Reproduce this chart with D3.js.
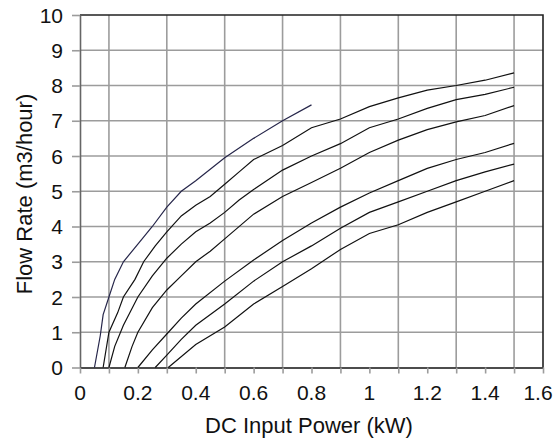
<!DOCTYPE html>
<html>
<head>
<meta charset="utf-8">
<script src="https://cdn.jsdelivr.net/npm/d3@7"></script>
<style>
  body { margin: 0; background: #fff; }
  svg { display: block; font-family: "Liberation Sans", Arial, sans-serif; }
</style>
</head>
<body>
<svg></svg>
<script>
// pump curves, [DC input power kW, flow m3/hour]
let curve1 = [[0.05,0],[0.07,0.9],[0.08,1.5],[0.1,2.0],[0.12,2.5],[0.15,3.0],[0.2,3.5],[0.25,4.0],[0.3,4.55],[0.35,5.0],[0.4,5.3],[0.5,5.95],[0.6,6.5],[0.7,7.0],[0.8,7.45]],
    curve2 = [[0.08,0],[0.1,1.0],[0.13,1.55],[0.15,2.0],[0.19,2.5],[0.22,3.0],[0.26,3.45],[0.3,3.85],[0.35,4.3],[0.4,4.6],[0.45,4.85],[0.5,5.2],[0.55,5.55],[0.6,5.9],[0.7,6.3],[0.8,6.8],[0.9,7.05],[1.0,7.4],[1.1,7.65],[1.2,7.87],[1.3,8.0],[1.4,8.15],[1.5,8.36]],
    curve3 = [[0.1,0],[0.12,0.6],[0.15,1.2],[0.2,2.0],[0.25,2.6],[0.3,3.1],[0.35,3.5],[0.4,3.85],[0.45,4.1],[0.5,4.4],[0.55,4.75],[0.6,5.05],[0.7,5.6],[0.8,6.0],[0.9,6.35],[1.0,6.8],[1.1,7.05],[1.2,7.35],[1.3,7.6],[1.4,7.75],[1.5,7.95]],
    curve4 = [[0.155,0],[0.18,0.6],[0.2,1.0],[0.25,1.7],[0.3,2.2],[0.35,2.6],[0.4,3.0],[0.45,3.3],[0.5,3.65],[0.6,4.35],[0.7,4.85],[0.8,5.25],[0.9,5.65],[1.0,6.1],[1.1,6.45],[1.2,6.75],[1.3,6.97],[1.4,7.15],[1.5,7.43]],
    curve5 = [[0.2,0],[0.25,0.5],[0.3,0.95],[0.35,1.4],[0.4,1.8],[0.5,2.45],[0.6,3.05],[0.7,3.6],[0.8,4.1],[0.9,4.55],[1.0,4.95],[1.1,5.3],[1.2,5.65],[1.3,5.9],[1.4,6.1],[1.5,6.36]],
    curve6 = [[0.26,0],[0.3,0.35],[0.35,0.8],[0.4,1.2],[0.5,1.8],[0.6,2.45],[0.7,3.0],[0.8,3.45],[0.9,3.95],[1.0,4.4],[1.1,4.7],[1.2,5.0],[1.3,5.3],[1.4,5.55],[1.5,5.77]],
    curve7 = [[0.305,0],[0.4,0.65],[0.5,1.15],[0.6,1.8],[0.7,2.3],[0.8,2.8],[0.9,3.35],[1.0,3.8],[1.1,4.05],[1.2,4.4],[1.3,4.7],[1.4,5.0],[1.5,5.3]],
    curves = [curve1,curve2,curve3,curve4,curve5,curve6,curve7];

let xTicks = d3.range(0,17).map(i=>i/10),            // tick marks every 0.1
    xLabels = [0,0.2,0.4,0.6,0.8,1,1.2,1.4,1.6],
    xGrid = [0.1,0.3,0.5,0.7,0.9,1.1,1.3,1.5],
    yTicks = [0,1,2,3,4,5,6,7,8,9,10];

let width = 556, height = 444,
    plotLeft = 80, plotRight = 543, plotTop = 15, plotBottom = 367.5,
    xScale = d3.scaleLinear().domain([0,1.6]).range([plotLeft,plotRight]),
    yScale = d3.scaleLinear().domain([0,10]).range([plotBottom,plotTop]),
    gridColor = "#9c9c9c",
    svg = d3.select("svg").attr("width",width).attr("height",height);

// grid
svg.append("g").selectAll("line").data(yTicks.slice(1,-1)).enter().append("line")
    .attr("x1",plotLeft).attr("x2",plotRight)
    .attr("y1",d=>yScale(d)).attr("y2",d=>yScale(d))
    .attr("stroke",gridColor).attr("stroke-width",1.6);

svg.append("g").selectAll("line").data(xGrid).enter().append("line")
    .attr("x1",d=>xScale(d)).attr("x2",d=>xScale(d))
    .attr("y1",plotTop).attr("y2",plotBottom)
    .attr("stroke",gridColor).attr("stroke-width",1.6);

// frame: top and right dark, left grey
svg.append("path")
    .attr("d",`M${plotLeft},${plotTop}H${plotRight}V${plotBottom}`)
    .attr("fill","none").attr("stroke","#222").attr("stroke-width",1.6);

// axes
let xAxis = d3.axisBottom(xScale).tickValues(xTicks).tickSize(6).tickSizeOuter(0).tickFormat(""),
    yAxis = d3.axisLeft(yScale).tickValues(yTicks).tickSize(8).tickSizeOuter(0).tickFormat("");

svg.append("g")
    .attr("transform",`translate(${plotLeft},0)`)
    .call(yAxis)
    .call(g=>g.select(".domain").attr("stroke","#666").attr("stroke-width",1.6))
    .call(g=>g.selectAll(".tick line").attr("stroke",gridColor).attr("stroke-width",1.6));

svg.append("g")
    .attr("transform",`translate(0,${plotBottom})`)
    .call(xAxis)
    .call(g=>g.select(".domain").attr("stroke","#111").attr("stroke-width",1.6))
    .call(g=>g.selectAll(".tick line").attr("stroke",gridColor).attr("stroke-width",1.6));

// tick labels
svg.append("g").selectAll("text").data(yTicks).enter().append("text")
    .attr("x",63)
    .attr("y",d=>yScale(d))
    .attr("dy","0.36em")
    .attr("text-anchor","end")
    .attr("font-size","21px")
    .attr("fill","#111")
    .text(d=>d);

svg.append("g").selectAll("text").data(xLabels).enter().append("text")
    .attr("x",d=>xScale(d))
    .attr("dx",(d,i)=>i==xLabels.length-1 ? -5 : 0)   // keep 1.6 inside the page
    .attr("y",399.5)
    .attr("text-anchor","middle")
    .attr("font-size","21px")
    .attr("fill","#111")
    .text(d=>d);

// titles
svg.append("text")
    .attr("x",309)
    .attr("y",433)
    .attr("text-anchor","middle")
    .attr("font-size","22px")
    .attr("fill","#111")
    .text("DC Input Power (kW)");

svg.append("text")
    .attr("transform","translate(32,194) rotate(-90)")
    .attr("text-anchor","middle")
    .attr("font-size","22px")
    .attr("fill","#111")
    .text("Flow Rate (m3/hour)");

// curves
let line = d3.line().x(d=>xScale(d[0])).y(d=>yScale(d[1]));

svg.append("g").selectAll("path").data(curves).enter().append("path")
    .attr("d",line)
    .attr("fill","none")
    .attr("stroke",(d,i)=>i==0 ? "#26264a" : "#111")
    .attr("stroke-width",1.2);
</script>
</body>
</html>
